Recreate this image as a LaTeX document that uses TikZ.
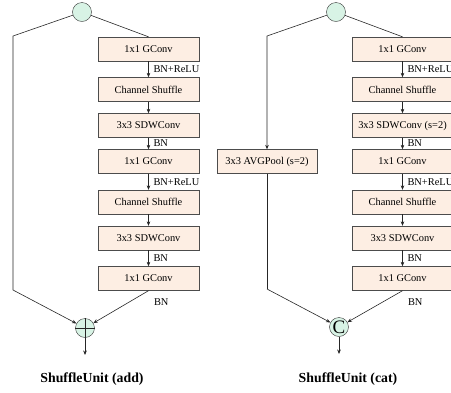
\documentclass[tikz,border=0pt]{standalone}
\usepackage{fontspec}
\setmainfont{Liberation Serif}
\usetikzlibrary{arrows.meta,positioning}

\definecolor{boxfill}{HTML}{FDEEE3}
\definecolor{joinfill}{HTML}{D8F3E5}

\begin{document}
\begin{tikzpicture}[x=1pt,y=-1pt,
    font=\fontsize{10.4}{12}\selectfont,
    layer/.style={draw=black!70,fill=boxfill,minimum width=101pt,minimum height=24pt,inner sep=0pt},
    joint/.style={circle,draw=black!80,fill=joinfill,minimum size=19pt,inner sep=0pt},
    wire/.style={draw=black!85,line width=0.6pt},
    flow/.style={wire,-{Stealth[length=4.5pt,width=3.6pt]}},
    title/.style={font=\bfseries\fontsize{13.8}{16}\selectfont}]

\useasboundingbox (0,0) rectangle (451,392);

% ShuffleUnit (add): input, boxes and add node.
\node (inA) [joint] at (82,12) {};
\foreach \i/\y/\t in {1/49/1x1 GConv,2/89.5/Channel Shuffle,3/125.5/3x3 SDWConv,
    4/161.5/1x1 GConv,5/202/Channel Shuffle,6/238/3x3 SDWConv,7/278.5/1x1 GConv}
    \node (L\i) [layer] at (148.5,\y) {\t};
\node (addA) [joint] at (85,328) {};
\draw[wire] (addA.north) -- (addA.south) (addA.west) -- (addA.east);
\coordinate (cornerTA) at (13,36);
\coordinate (cornerBA) at (13,290);
\coordinate (outA) at (85,355);

% Shortcut branch.
\draw[wire] (inA) -- (cornerTA) -- (cornerBA);
\draw[flow] (cornerBA) -- (addA);

% Main branch.
\draw[wire] (inA) -- (L1.north);
\foreach \a/\b in {1/2,2/3,3/4,4/5,5/6,6/7}
    \draw[flow] (L\a) -- (L\b);
\draw[flow] (L7.south) -- (addA);
\draw[flow] (addA) -- (outA);

% Labels, cut off at the right edge of the boxes.
\begin{scope}
    \clip (0,0) rectangle (200.6,392);
    \foreach \a/\b/\l in {1/2/BN+ReLU,3/4/BN,4/5/BN+ReLU,6/7/BN}
        \path (L\a.south) -- (L\b.north) node (bnA\a) [midway,right=1.5pt] {\l};
\end{scope}
\node (bnA7) [anchor=west] at ([xshift=2pt,yshift=-11.5pt]L7.south) {BN};
\node (titleA) [title] at (92,379) {ShuffleUnit (add)};

% ShuffleUnit (cat): input, pooling, boxes and concat node.
\node (inB) [joint] at (336,12) {};
\foreach \i/\y/\t in {1/49/1x1 GConv,2/89.5/Channel Shuffle,3/125.5/3x3 SDWConv (s=2),
    4/161.5/1x1 GConv,5/202/Channel Shuffle,6/238/3x3 SDWConv,7/278.5/1x1 GConv}
    \node (R\i) [layer] at (402.5,\y) {\t};
\node (pool) [layer,minimum width=100pt] at (267,161.5) {3x3 AVGPool (s=2)};
\node (catB) [joint,font=\fontsize{19}{19}\selectfont] at (339,327) {C};
\coordinate (cornerTB) at (267,36);
\coordinate (cornerBB) at (267,289);
\coordinate (outB) at (339,354);

% Shortcut branch with pooling.
\draw[flow] (inB) -- (cornerTB) -- (pool);
\draw[wire] (pool) -- (cornerBB);
\draw[flow] (cornerBB) -- (catB);

% Main branch.
\draw[wire] (inB) -- (R1.north);
\foreach \a/\b in {1/2,2/3,3/4,4/5,5/6,6/7}
    \draw[flow] (R\a) -- (R\b);
\draw[flow] (R7.south) -- (catB);
\draw[flow] (catB) -- (outB);

% Labels.
\foreach \a/\b/\l in {1/2/BN+ReLU,3/4/BN,4/5/BN+ReLU,6/7/BN}
    \path (R\a.south) -- (R\b.north) node (bnB\a) [midway,right=1.5pt] {\l};
\node (bnB7) [anchor=west] at ([xshift=2pt,yshift=-11.5pt]R7.south) {BN};
\node (titleB) [title] at (348,379) {ShuffleUnit (cat)};

\end{tikzpicture}
\end{document}
